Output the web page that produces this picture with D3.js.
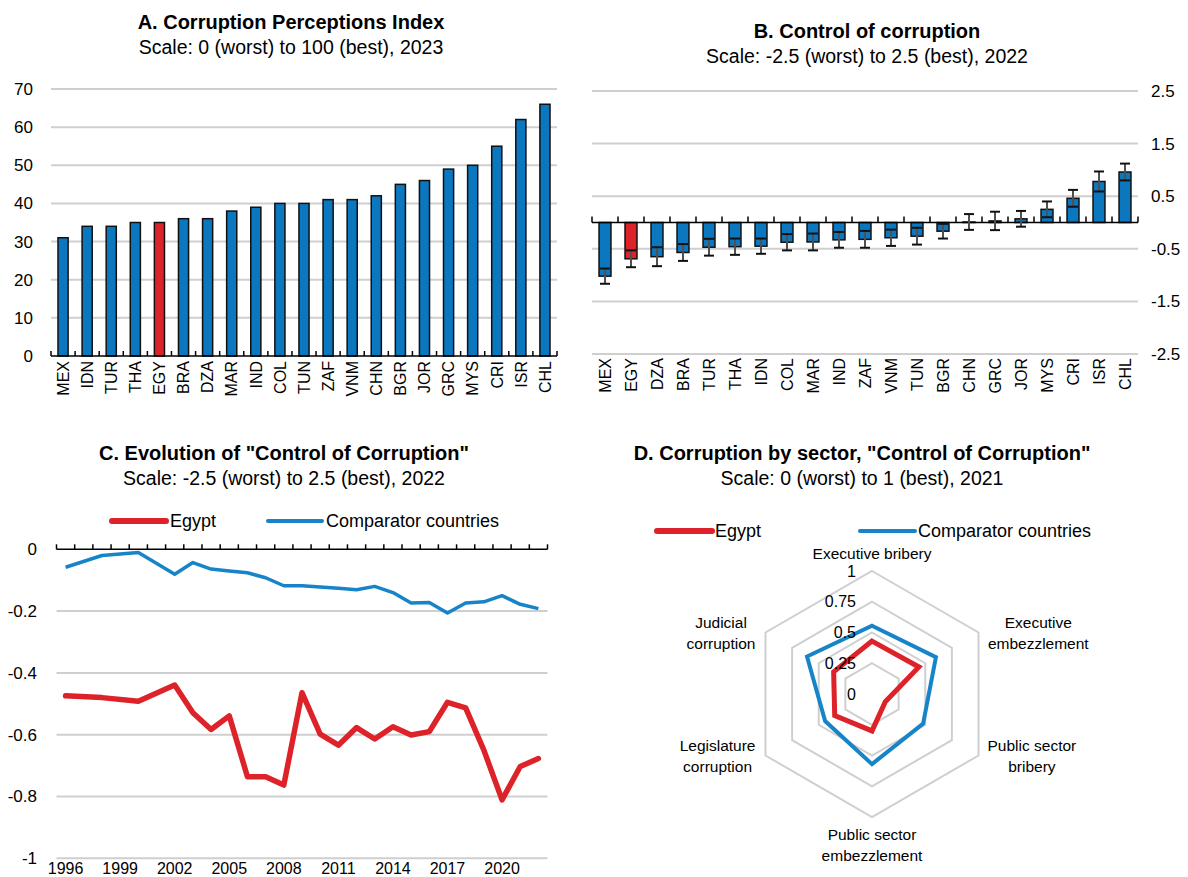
<!DOCTYPE html>
<html><head><meta charset="utf-8">
<script src="https://cdn.jsdelivr.net/npm/d3@7"></script>
<style>
body{margin:0;background:#fff;}
svg{display:block;font-family:"Liberation Sans",Arial,sans-serif;}
</style></head>
<body><svg id="c" width="1188" height="877"></svg>
<script>
// ---------- DATA ----------
const cpiCountries = ["MEX","IDN","TUR","THA","EGY","BRA","DZA","MAR","IND","COL","TUN","ZAF","VNM","CHN","BGR","JOR","GRC","MYS","CRI","ISR","CHL"];
const cpiValues    = [31,34,34,35,35,36,36,38,39,40,40,41,41,42,45,46,49,50,55,62,66];
const cpiTicks     = [0,10,20,30,40,50,60,70];

const ccCountries  = ["MEX","EGY","DZA","BRA","TUR","THA","IDN","COL","MAR","IND","ZAF","VNM","TUN","BGR","CHN","GRC","JOR","MYS","CRI","ISR","CHL"];
const ccValues     = [-1.02,-0.69,-0.65,-0.57,-0.47,-0.46,-0.45,-0.375,-0.37,-0.33,-0.32,-0.29,-0.26,-0.165,0.01,0.03,0.07,0.25,0.46,0.78,0.96];
const ccErrors     = [0.145,0.16,0.18,0.16,0.16,0.155,0.145,0.155,0.16,0.15,0.16,0.155,0.16,0.14,0.15,0.175,0.15,0.15,0.16,0.19,0.16];
const ccTicks      = [2.5,1.5,0.5,-0.5,-1.5,-2.5];

const years        = d3.range(1996, 2023);
const egyptSeries  = [-0.474,null,-0.480,null,-0.492,null,-0.439,-0.529,-0.583,-0.539,-0.736,-0.736,-0.763,-0.464,-0.598,-0.634,-0.577,-0.614,-0.574,-0.601,-0.590,-0.495,-0.513,-0.650,-0.811,-0.703,-0.677];
const compSeries   = [-0.058,null,-0.020,null,-0.010,null,-0.081,-0.043,-0.064,-0.070,-0.076,-0.092,-0.118,-0.118,-0.122,-0.126,-0.131,-0.120,-0.140,-0.174,-0.172,-0.206,-0.174,-0.170,-0.150,-0.178,-0.192];
const evoTicks     = [0,-0.2,-0.4,-0.6,-0.8,-1];
const yearLabels   = [1996,1999,2002,2005,2008,2011,2014,2017,2020];

const sectors      = [["Executive bribery"],["Executive","embezzlement"],["Public sector","bribery"],["Public sector","embezzlement"],["Legislature","corruption"],["Judicial","corruption"]];
const sectorEgypt  = [0.43,0.44,0.125,0.30,0.35,0.36];
const sectorComp   = [0.555,0.60,0.48,0.57,0.44,0.61];
const radarTicks   = [0,0.25,0.5,0.75,1];

const seriesNames  = ["Egypt","Comparator countries"];

// ---------- STYLE ----------
const BLUE="#0B77BF", RED="#DD2229", LBLUE="#1784C8", GRID="#cfcfcf";
const svg=d3.select("#c");

function title(x,y,t,s){
  svg.append("text").attr("x",x).attr("y",y).attr("text-anchor","middle").attr("font-size",20).attr("font-weight","bold").text(t);
  svg.append("text").attr("x",x).attr("y",y+25).attr("text-anchor","middle").attr("font-size",19.5).text(s);
}

// ---------- PANEL A ----------
title(291,29,"A. Corruption Perceptions Index","Scale: 0 (worst) to 100 (best), 2023");
{
  const x=d3.scaleBand().domain(cpiCountries).range([51,557]).paddingInner(0.58).paddingOuter(0.29);
  const y=d3.scaleLinear().domain([0,70]).range([356,89]);
  const g=svg.append("g");
  g.selectAll("line.grid").data(cpiTicks.filter(d=>d!==0)).join("line")
    .attr("x1",51).attr("x2",557).attr("y1",d=>y(d)).attr("y2",d=>y(d)).attr("stroke",GRID).attr("stroke-width",2);
  g.selectAll("text.yt").data(cpiTicks).join("text").attr("x",33).attr("y",d=>y(d)).attr("dy","0.35em")
    .attr("text-anchor","end").attr("font-size",17).text(d=>d);
  g.selectAll("rect").data(cpiValues).join("rect")
    .attr("x",(d,i)=>x(cpiCountries[i])).attr("width",x.bandwidth())
    .attr("y",d=>y(d)).attr("height",d=>y(0)-y(d))
    .attr("fill",(d,i)=>cpiCountries[i]==="EGY"?RED:BLUE).attr("stroke","#111").attr("stroke-width",1.5);
  g.append("line").attr("x1",51).attr("x2",557).attr("y1",y(0)).attr("y2",y(0)).attr("stroke","#000").attr("stroke-width",1.5);
  const step=x.step();
  g.selectAll("line.tk").data(d3.range(cpiCountries.length+1)).join("line")
    .attr("x1",i=>51+i*step).attr("x2",i=>51+i*step).attr("y1",y(0)).attr("y2",y(0)-5).attr("stroke","#000").attr("stroke-width",1.5);
  g.selectAll("text.xl").data(cpiCountries).join("text")
    .attr("transform",d=>`translate(${x(d)+x.bandwidth()/2},361) rotate(-90)`).attr("dy","0.36em")
    .attr("text-anchor","end").attr("font-size",16).text(d=>d);
}

// ---------- PANEL B ----------
title(867,38,"B. Control of corruption","Scale: -2.5 (worst) to 2.5 (best), 2022");
{
  const x=d3.scaleBand().domain(ccCountries).range([592,1138]).paddingInner(0.54).paddingOuter(0.27);
  const y=d3.scaleLinear().domain([-2.5,2.5]).range([354,91]);
  const g=svg.append("g");
  g.selectAll("line.grid").data(ccTicks).join("line")
    .attr("x1",592).attr("x2",1138).attr("y1",d=>y(d)).attr("y2",d=>y(d)).attr("stroke",GRID).attr("stroke-width",2);
  g.selectAll("text.yt").data(ccTicks).join("text").attr("x",1151).attr("y",d=>y(d)).attr("dy","0.35em")
    .attr("text-anchor","start").attr("font-size",17).text(d=>d);
  g.selectAll("rect").data(ccValues).join("rect")
    .attr("x",(d,i)=>x(ccCountries[i])).attr("width",x.bandwidth())
    .attr("y",d=>y(Math.max(0,d))).attr("height",d=>Math.abs(y(d)-y(0)))
    .attr("fill",(d,i)=>ccCountries[i]==="EGY"?RED:BLUE).attr("stroke","#111").attr("stroke-width",1.5);
  g.append("line").attr("x1",592).attr("x2",1138).attr("y1",y(0)).attr("y2",y(0)).attr("stroke","#000").attr("stroke-width",1.5);
  const step=x.step();
  g.selectAll("line.tk").data(d3.range(ccCountries.length+1)).join("line")
    .attr("x1",i=>592+i*step).attr("x2",i=>592+i*step).attr("y1",y(0)).attr("y2",y(0)-6).attr("stroke","#000").attr("stroke-width",1.5);
  const eb=g.selectAll("g.eb").data(ccValues).join("g")
    .attr("transform",(d,i)=>`translate(${x(ccCountries[i])+x.bandwidth()/2},0)`);
  eb.append("line").attr("y1",(d,i)=>y(d+ccErrors[i])).attr("y2",(d,i)=>y(d-ccErrors[i])).attr("stroke","#505050").attr("stroke-width",2);
  eb.append("line").attr("x1",-5).attr("x2",5).attr("y1",(d,i)=>y(d+ccErrors[i])).attr("y2",(d,i)=>y(d+ccErrors[i])).attr("stroke","#111").attr("stroke-width",2);
  eb.append("line").attr("x1",-5).attr("x2",5).attr("y1",(d,i)=>y(d-ccErrors[i])).attr("y2",(d,i)=>y(d-ccErrors[i])).attr("stroke","#111").attr("stroke-width",2);
  g.selectAll("text.xl").data(ccCountries).join("text")
    .attr("transform",d=>`translate(${x(d)+x.bandwidth()/2},358) rotate(-90)`).attr("dy","0.36em")
    .attr("text-anchor","end").attr("font-size",16).text(d=>d);
}

// ---------- PANEL C ----------
title(284,460,"C. Evolution of \"Control of Corruption\"","Scale: -2.5 (worst) to 2.5 (best), 2022");
{
  const x=d3.scaleBand().domain(years).range([56.5,547.5]);
  const y=d3.scaleLinear().domain([-1,0]).range([858.3,549.3]);
  const g=svg.append("g");
  g.selectAll("line.grid").data(evoTicks.filter(d=>d!==0)).join("line")
    .attr("x1",56.5).attr("x2",547.5).attr("y1",d=>y(d)).attr("y2",d=>y(d)).attr("stroke",GRID).attr("stroke-width",2);
  g.selectAll("text.yt").data(evoTicks).join("text").attr("x",37).attr("y",d=>y(d)).attr("dy","0.35em")
    .attr("text-anchor","end").attr("font-size",17).text(d=>d);
  g.append("line").attr("x1",56.5).attr("x2",547.5).attr("y1",y(0)).attr("y2",y(0)).attr("stroke","#000").attr("stroke-width",1.5);
  const step=x.step();
  g.selectAll("line.tk").data(d3.range(years.length+1)).join("line")
    .attr("x1",i=>56.5+i*step).attr("x2",i=>56.5+i*step).attr("y1",y(0)).attr("y2",y(0)-5).attr("stroke","#000").attr("stroke-width",1.5);
  g.selectAll("text.xl").data(yearLabels).join("text").attr("x",d=>x(d)+step/2).attr("y",874)
    .attr("text-anchor","middle").attr("font-size",16).text(d=>d);
  const line=d3.line().x(d=>x(d[0])+step/2).y(d=>y(d[1]));
  const pts=s=>years.map((yr,i)=>[yr,s[i]]).filter(d=>d[1]!==null);
  g.append("path").attr("d",line(pts(compSeries))).attr("fill","none").attr("stroke",LBLUE).attr("stroke-width",3.5).attr("stroke-linejoin","round");
  g.append("path").attr("d",line(pts(egyptSeries))).attr("fill","none").attr("stroke",RED).attr("stroke-width",5.5).attr("stroke-linejoin","round").attr("stroke-linecap","round");
  // legend
  const lg=[{x:112,c:RED,w:6},{x:268,c:LBLUE,w:4}];
  lg.forEach((l,i)=>{
    g.append("line").attr("x1",l.x).attr("x2",l.x+54).attr("y1",521).attr("y2",521).attr("stroke",l.c).attr("stroke-width",l.w).attr("stroke-linecap","round");
    g.append("text").attr("x",l.x+58).attr("y",521).attr("dy","0.35em").attr("font-size",18).text(seriesNames[i]);
  });
}

// ---------- PANEL D ----------
title(862,460,"D. Corruption by sector, \"Control of Corruption\"","Scale: 0 (worst) to 1 (best), 2021");
{
  const cx=872, cy=694, R=123;
  const g=svg.append("g");
  const r=d3.scaleLinear().domain([0,1]).range([0,R]);
  const ang=i=>i*Math.PI/3;
  const pt=(i,v)=>[cx+r(v)*Math.sin(ang(i)), cy-r(v)*Math.cos(ang(i))];
  const poly=d3.line().curve(d3.curveLinearClosed);
  g.selectAll("path.ring").data(radarTicks.filter(d=>d>0)).join("path")
    .attr("d",t=>poly(sectors.map((s,i)=>pt(i,t)))).attr("fill","none").attr("stroke",GRID).attr("stroke-width",2);
  g.append("path").attr("d",poly(sectorComp.map((v,i)=>pt(i,v)))).attr("fill","none").attr("stroke",LBLUE).attr("stroke-width",4).attr("stroke-linejoin","miter");
  g.append("path").attr("d",poly(sectorEgypt.map((v,i)=>pt(i,v)))).attr("fill","none").attr("stroke",RED).attr("stroke-width",5).attr("stroke-linejoin","miter");
  g.selectAll("text.rt").data(radarTicks).join("text").attr("x",cx-16).attr("y",t=>cy-r(t)).attr("dy","0.35em")
    .attr("text-anchor","end").attr("font-size",16).text(d=>d);
  sectors.forEach((lines,i)=>{
    const [vx,vy]=pt(i,1);
    const t=g.append("text").attr("font-size",15.5).attr("text-anchor","middle");
    lines.forEach((ln,j)=>t.append("tspan").attr("x",0).attr("dy",j===0?0:21).text(ln));
    const bb=t.node().getBBox();
    const s=Math.sin(ang(i)), c=Math.cos(ang(i));
    let tx=vx, ty=vy;
    if(Math.abs(s)<0.01){
      ty = c>0 ? vy-9-(bb.y+bb.height) : vy+9-bb.y;
    } else {
      tx = s>0 ? vx+9+bb.width/2 : vx-10-bb.width/2;
      ty = vy-(bb.y+bb.height/2);
    }
    t.attr("transform",`translate(${tx},${ty})`);
  });
  const lg=[{x:657,c:RED,w:6},{x:860,c:LBLUE,w:4}];
  lg.forEach((l,i)=>{
    g.append("line").attr("x1",l.x).attr("x2",l.x+55).attr("y1",531).attr("y2",531).attr("stroke",l.c).attr("stroke-width",l.w).attr("stroke-linecap","round");
    g.append("text").attr("x",l.x+58).attr("y",531).attr("dy","0.35em").attr("font-size",18).text(seriesNames[i]);
  });
}
</script></body></html>
